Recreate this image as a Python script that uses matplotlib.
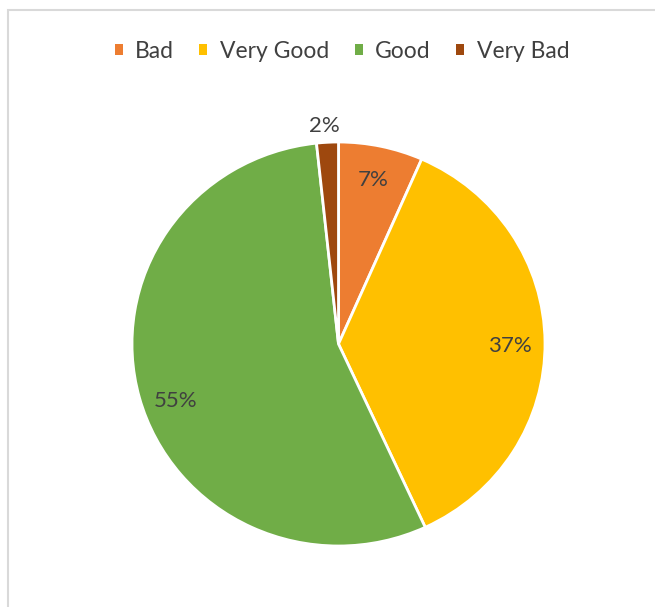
import matplotlib.pyplot as plt
import numpy as np
from matplotlib.patches import Rectangle

# ratings share
labels = ['Bad', 'Very Good', 'Good', 'Very Bad']
shares = [6.6, 36.5, 55.2, 1.7]
pct_text = ['7%', '37%', '55%', '2%']
colors = ['#ED7D31', '#FFC000', '#70AD47', '#9E480E']

plt.rcParams['font.family'] = ['Lato', 'DejaVu Sans']

W, H = 655, 607
fig = plt.figure(figsize=(W / 100, H / 100), dpi=100)

# light frame round the chart area
fig.patches.append(Rectangle((8 / W, -0.05), 1.1, 1 - 10 / H + 0.05,
                             transform=fig.transFigure, fill=False,
                             edgecolor='#D9D9D9', linewidth=1.5))

# pie box is slightly squashed vertically
cx, cy, rx, ry = 338.5, 344, 206.5, 202
ax = fig.add_axes([(cx - rx) / W, (H - cy - ry) / H, 2 * rx / W, 2 * ry / H])

wedges, _ = ax.pie(shares, colors=colors, startangle=90, counterclock=False,
                   wedgeprops=dict(edgecolor='white', linewidth=2))
for w in wedges:
    w.set_clip_on(False)
ax.set_aspect('auto')
ax.set_xlim(-1, 1)
ax.set_ylim(-1, 1)

# small pixel nudges for the labels (x, y)
nudge = [(-1, 0), (0, -4), (2, -12), (-2, -2)]
for w, txt, s, (dx, dy) in zip(wedges, pct_text, shares, nudge):
    mid = np.deg2rad((w.theta1 + w.theta2) / 2)
    dist = 1.09 if s < 3 else 0.83
    ax.annotate(txt, (dist * np.cos(mid), dist * np.sin(mid)),
                xytext=(dx * 0.72, dy * 0.72), textcoords='offset points',
                ha='center', va='center', fontsize=16, color='#404040',
                annotation_clip=False)

leg = fig.legend(wedges, labels, loc='center', bbox_to_anchor=(0.522, 1 - 51 / H),
                 ncol=4, frameon=False, fontsize=16.5, handlelength=0.35,
                 handleheight=0.35, handletextpad=0.55, columnspacing=1.1)
for t in leg.get_texts():
    t.set_color('#404040')
for h in leg.legend_handles:
    h.set_edgecolor('none')

fig.savefig('out.png', dpi=100)
